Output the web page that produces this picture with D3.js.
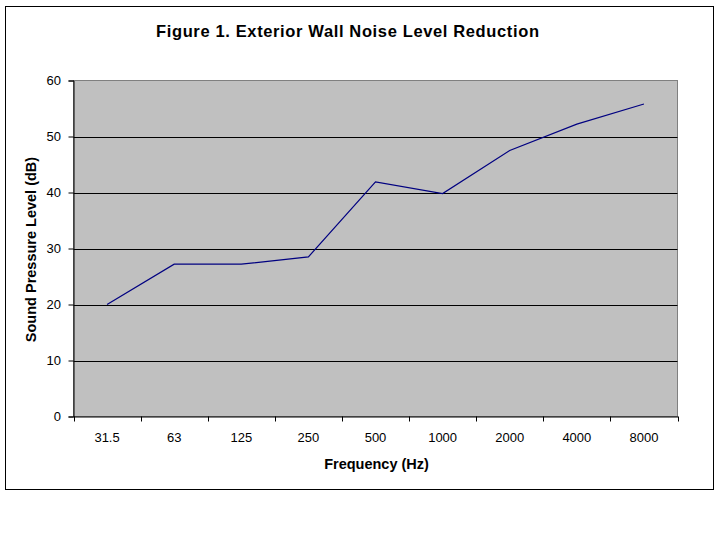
<!DOCTYPE html>
<html>
<head>
<meta charset="utf-8">
<script src="https://cdn.jsdelivr.net/npm/d3@7"></script>
<style>
  body { margin: 0; background: #fff; }
  svg { display: block; font-family: "Liberation Sans", Arial, sans-serif; }
</style>
</head>
<body>
<svg id="chart" width="720" height="540"></svg>
<script>
const categories = ["31.5", "63", "125", "250", "500", "1000", "2000", "4000", "8000"];
const values = [20, 27.2, 27.2, 28.5, 41.9, 39.8, 47.5, 52.2, 55.8];
const yTicks = [0, 10, 20, 30, 40, 50, 60];
const titleText = "Figure 1. Exterior Wall Noise Level Reduction";
const xTitle = "Frequency (Hz)";
const yTitle = "Sound Pressure Level (dB)";

const svg = d3.select("#chart");
const pLeft = 73.5, pRight = 677.5, pTop = 80.5, pBottom = 416.5;

// outer border
svg.append("rect").attr("x", 5.5).attr("y", 6.5).attr("width", 708).attr("height", 483)
  .attr("fill", "#fff").attr("stroke", "#000").attr("stroke-width", 1);

const x = d3.scaleBand().domain(categories).range([pLeft, pRight]).padding(0);
const y = d3.scaleLinear().domain([0, 60]).range([pBottom, pTop]);

// plot area
svg.append("rect").attr("x", pLeft).attr("y", pTop).attr("width", pRight - pLeft).attr("height", pBottom - pTop)
  .attr("fill", "#c0c0c0").attr("stroke", "#808080").attr("stroke-width", 1);

// gridlines
svg.append("g").selectAll("line").data(yTicks.filter(d => d > 0 && d < 60)).join("line")
  .attr("x1", pLeft).attr("x2", pRight)
  .attr("y1", d => Math.round(y(d)) + 0.5).attr("y2", d => Math.round(y(d)) + 0.5)
  .attr("stroke", "#000").attr("stroke-width", 1);

// y axis
const yAxis = svg.append("g").attr("transform", `translate(${pLeft},0)`)
  .call(d3.axisLeft(y).tickValues(yTicks).tickSize(5).tickPadding(7.5).tickFormat(d3.format("d")));
yAxis.select(".domain").attr("stroke", "#000");
yAxis.selectAll("line").attr("stroke", "#000");
yAxis.selectAll("text").attr("font-size", 13).attr("fill", "#000")
  .attr("font-family", "'Liberation Sans', Arial, sans-serif");

// x axis
const xAxis = svg.append("g").attr("transform", `translate(0,${pBottom})`)
  .call(d3.axisBottom(x).tickSize(0).tickPadding(16.5));
xAxis.select(".domain").attr("stroke", "#000");
xAxis.selectAll("text").attr("font-size", 13).attr("fill", "#000")
  .attr("font-family", "'Liberation Sans', Arial, sans-serif");
// boundary ticks
const bounds = categories.map(c => x(c)).concat([x(categories[categories.length - 1]) + x.bandwidth()]);
svg.append("g").selectAll("line").data(bounds).join("line")
  .attr("x1", d => Math.round(d) + 0.5).attr("x2", d => Math.round(d) + 0.5)
  .attr("y1", pBottom).attr("y2", pBottom + 5).attr("stroke", "#000");

// line
const line = d3.line().x((d, i) => x(categories[i]) + x.bandwidth() / 2).y(d => y(d));
svg.append("path").datum(values).attr("d", line)
  .attr("fill", "none").attr("stroke", "#000080").attr("stroke-width", 1.2);

// titles
svg.append("text").attr("x", 347.5).attr("y", 37).attr("text-anchor", "middle")
  .attr("font-size", 16.5).attr("font-weight", "bold")
  .attr("textLength", 383).attr("lengthAdjust", "spacing").text(titleText);
svg.append("text").attr("x", 376.5).attr("y", 469).attr("text-anchor", "middle")
  .attr("font-size", 14.5).attr("font-weight", "bold").text(xTitle);
svg.append("text").attr("transform", "translate(36,249.5) rotate(-90)").attr("text-anchor", "middle")
  .attr("font-size", 14.5).attr("font-weight", "bold").text(yTitle);
</script>
</body>
</html>
